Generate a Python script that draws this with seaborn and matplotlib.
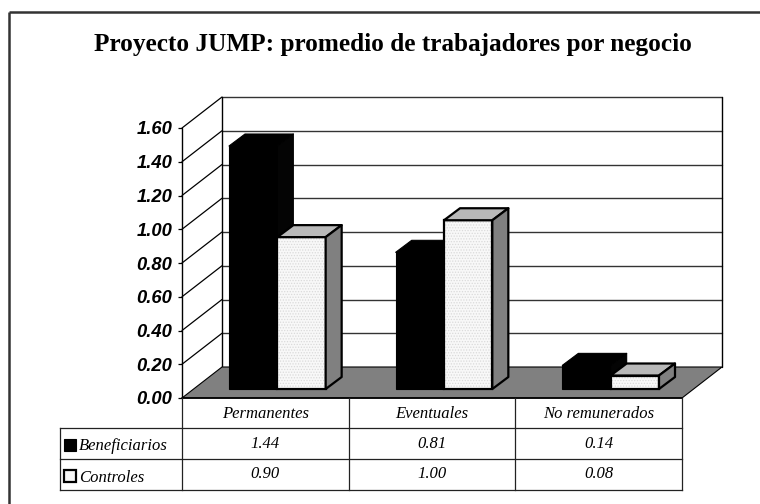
import pandas as pd
import matplotlib
matplotlib.use("Agg")
import matplotlib.pyplot as plt
from matplotlib.patches import Polygon, Rectangle
import seaborn as sns

titulo = "Proyecto JUMP: promedio de trabajadores por negocio"
categorias = ["Permanentes", "Eventuales", "No remunerados"]
series = ["Beneficiarios", "Controles"]
beneficiarios = [1.44, 0.81, 0.14]
controles = [0.90, 1.00, 0.08]
ticks_y = [0.0, 0.2, 0.4, 0.6, 0.8, 1.0, 1.2, 1.4, 1.6]

W, H = 760, 504
# plot box in pixels (front plane)
X0, X1, Y0, Y1 = 182, 682, 398, 128
DX, DY = 40, 31        # depth of the floor
BX, BY = 12, 9         # bars start this far back
SX, SY = 16, 12        # depth of a bar

sns.set_theme(style="white")
plt.rcParams["hatch.linewidth"] = 0.6

fig = plt.figure(figsize=(W / 100, H / 100), dpi=100)
ax = fig.add_axes([X0 / W, 1 - Y0 / H, (X1 - X0) / W, (Y0 - Y1) / H])

df = pd.DataFrame({
    "categoria": categorias * 2,
    "serie": [series[0]] * 3 + [series[1]] * 3,
    "valor": beneficiarios + controles,
})
sns.barplot(data=df, x="categoria", y="valor", hue="serie", order=categorias,
            palette=["black", "#f8f8f8"], width=0.58, gap=0, legend=False,
            saturation=1, ax=ax, zorder=5)
ax.set_xlim(-0.5, 2.5)
ax.set_ylim(0, 1.6)

# pixel to data scales
ux = 3 / (X1 - X0)
uy = 1.6 / (Y0 - Y1)
dx, dy = DX * ux, DY * uy

ax.set_facecolor("none")
for s in ax.spines.values():
    s.set_visible(False)

# walls, floor, gridlines
ax.add_patch(Polygon([(-0.5, 0), (-0.5 + dx, dy), (2.5 + dx, dy), (2.5, 0)], closed=True,
                     fc="#808080", ec="black", lw=0.8, clip_on=False, zorder=2))
for v in ticks_y:
    if v > 0:
        ax.plot([-0.5, -0.5 + dx], [v, v + dy], color="black", lw=0.9, clip_on=False, zorder=1)
        ax.plot([-0.5 + dx, 2.5 + dx], [v + dy, v + dy], color="#333333", lw=1.0, clip_on=False, zorder=1)
ax.plot([-0.5 + dx] * 2, [dy, 1.6 + dy], color="black", lw=1.0, clip_on=False, zorder=1)
ax.plot([2.5 + dx] * 2, [dy, 1.6 + dy], color="black", lw=1.0, clip_on=False, zorder=1)
ax.plot([-0.5, -0.5], [0, 1.6], color="black", lw=1.0, clip_on=False, zorder=1)
ax.plot([-0.5, 2.5], [0, 0], color="black", lw=1.2, clip_on=False, zorder=3)

# push bars back and give them a top and a side
barras = [p for p in ax.patches if isinstance(p, Rectangle)]
sx, sy = SX * ux, SY * uy
for i, p in enumerate(barras):
    p.set_x(p.get_x() + BX * ux)
    p.set_y(BY * uy)
    x, y, w, h = p.get_x(), p.get_y(), p.get_width(), p.get_height()
    negra = i < 3
    z = 5 + i % 3 * 2 + (0 if negra else 1)
    p.set_zorder(z)
    if negra:
        p.set_edgecolor("black")
        p.set_linewidth(0.8)
        top, side = "black", "#040404"
    else:
        p.set_edgecolor("#dadada")
        p.set_hatch("......")
        p.set_linewidth(0)
        top, side = "#b9b9b9", "#808080"
        ax.add_patch(Rectangle((x, y), w, h, fill=False, ec="black", lw=1.6, zorder=z, clip_on=False))
    lw = 0.8 if negra else 1.6
    ax.add_patch(Polygon([(x, y + h), (x + sx, y + h + sy), (x + w + sx, y + h + sy), (x + w, y + h)],
                         closed=True, fc=top, ec="black", lw=lw, zorder=z, clip_on=False, joinstyle="round"))
    ax.add_patch(Polygon([(x + w, y), (x + w + sx, y + sy), (x + w + sx, y + h + sy), (x + w, y + h)],
                         closed=True, fc=side, ec="black", lw=lw, zorder=z, clip_on=False, joinstyle="round"))
    p.set_clip_on(False)

# y axis
ax.set_xlabel("")
ax.set_ylabel("")
ax.set_xticks([])
ax.set_yticks(ticks_y)
ax.set_yticklabels([f"{v:.2f}" for v in ticks_y], family="Liberation Sans", weight="bold",
                   style="italic", fontsize=13.2, color="black")
ax.tick_params(axis="y", left=True, length=3, width=0.9, color="black", pad=4)

# data table drawn in pixel coordinates on a full figure overlay
ov = fig.add_axes([0, 0, 1, 1], zorder=10)
ov.set_xlim(0, W)
ov.set_ylim(H, 0)
ov.axis("off")
ov.patch.set_alpha(0)

ov.plot([9, 9], [12, H], color="#333333", lw=1.8, solid_capstyle="butt")
ov.plot([9, W], [12, 12], color="#333333", lw=1.8, solid_capstyle="butt")

filas = [Y0, 428, 459, 490]
cols = [X0, 348.7, 515.3, X1]
LEFT = 60
lin = dict(color="#222222", lw=0.9, solid_capstyle="projecting")
for x in cols:
    ov.plot([x, x], [Y0, filas[3]], **lin)
ov.plot([LEFT, LEFT], [filas[1], filas[3]], **lin)
ov.plot([LEFT, X1], [filas[1], filas[1]], **lin)
ov.plot([LEFT, X1], [filas[2], filas[2]], **lin)
ov.plot([LEFT, X1], [filas[3], filas[3]], **lin)

txt = dict(family="Liberation Serif", style="italic", fontsize=12, color="black", ha="center", va="center")
for j, c in enumerate(categorias):
    cx = (cols[j] + cols[j + 1]) / 2
    ov.text(cx, (filas[0] + filas[1]) / 2 + 0.5, c, **txt)
    ov.text(cx, (filas[1] + filas[2]) / 2, f"{beneficiarios[j]:.2f}", **txt)
    ov.text(cx, (filas[2] + filas[3]) / 2, f"{controles[j]:.2f}", **txt)

for r, (nombre, fc) in enumerate(zip(series, ["black", "#f6f6f6"])):
    my = (filas[r + 1] + filas[r + 2]) / 2
    ov.add_patch(Rectangle((64, my - 4.5), 12, 12, fc=fc, ec="black", lw=1.6 if r else 0.8))
    ov.text(79, my + 3, nombre, **{**txt, "ha": "left"})

ov.text(392.5, 44, titulo, family="Liberation Serif", weight="bold", fontsize=18.2, color="black",
        ha="center", va="center")

fig.savefig("out.png", dpi=100)
